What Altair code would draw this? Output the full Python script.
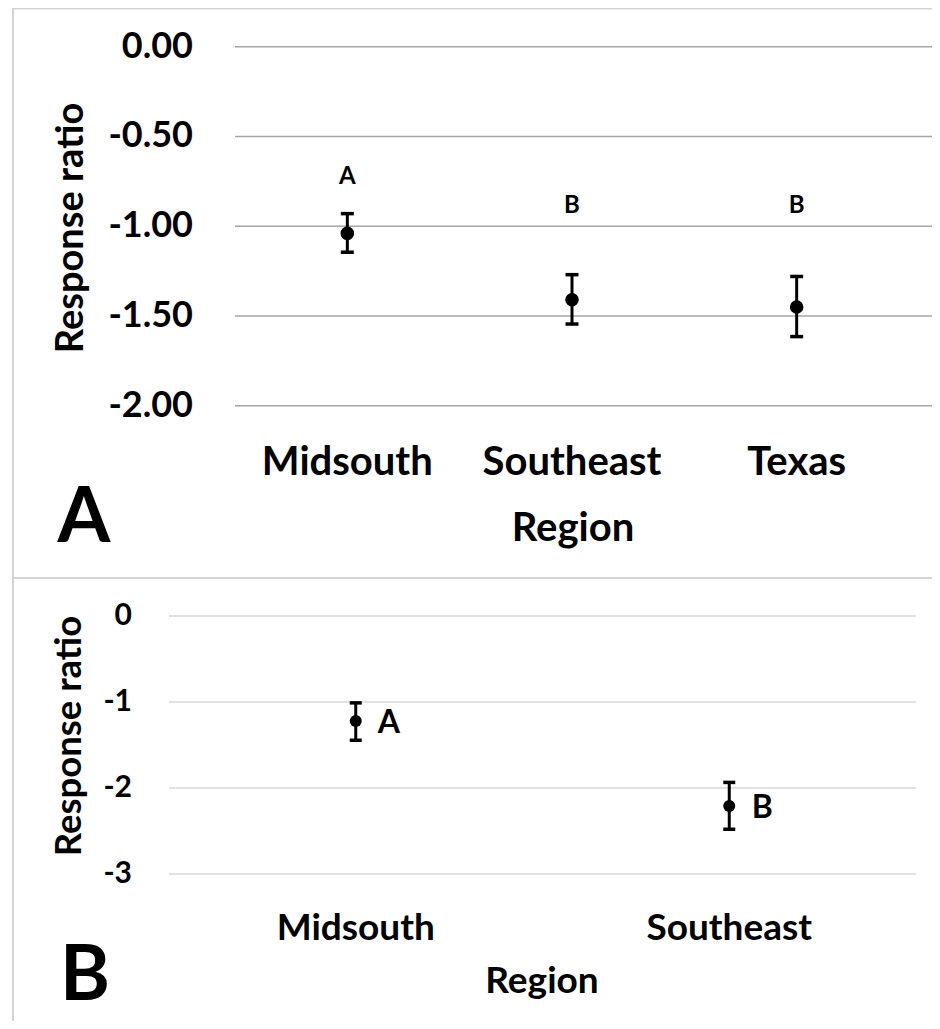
import altair as alt
import pandas as pd

# ---------------- Panel A data ----------------
regions_a = ["Midsouth", "Southeast", "Texas"]
mean_a = [-1.04, -1.41, -1.45]
upper_a = [-0.93, -1.27, -1.28]
lower_a = [-1.145, -1.545, -1.615]
letters_a = ["A", "B", "B"]
letter_pos_a = [-0.725, -0.885, -0.885]
ticks_a = [0, -0.5, -1, -1.5, -2]
tick_labels_a = ["0.00", "-0.50", "-1.00", "-1.50", "-2.00"]

# ---------------- Panel B data ----------------
regions_b = ["Midsouth", "Southeast"]
mean_b = [-1.22, -2.21]
upper_b = [-1.01, -1.935]
lower_b = [-1.445, -2.48]
letters_b = ["A", "B"]
ticks_b = [0, -1, -2, -3]
tick_labels_b = ["0", "-1", "-2", "-3"]

x_title = "Region"
y_title = "Response ratio"
panel_letters = ["A", "B"]

FONT = "Lato"
W, H = 924, 1013

df_a = pd.DataFrame({"region": regions_a, "mean": mean_a, "upper": upper_a,
                     "lower": lower_a, "letter": letters_a, "lpos": letter_pos_a})
df_ta = pd.DataFrame({"tick": ticks_a, "label": tick_labels_a})
df_b = pd.DataFrame({"region": regions_b, "mean": mean_b, "upper": upper_b,
                     "lower": lower_b, "letter": letters_b})
df_tb = pd.DataFrame({"tick": ticks_b, "label": tick_labels_b})
one = pd.DataFrame({"k": [0]})

# scales
xa = alt.X("region:N", scale=alt.Scale(type="point", domain=regions_a, range=[227, 901], padding=0.5), axis=None)
ysa = alt.Scale(domain=[-2, 0], range=[397.7, 38.7], nice=False, zero=False)
xb = alt.X("region:N", scale=alt.Scale(type="point", domain=regions_b, range=[161, 908], padding=0.5), axis=None)
ysb = alt.Scale(domain=[-3, 0], range=[866, 608], nice=False, zero=False)

def txt(size, **kw):
    return dict(font=FONT, fontWeight="bold", fontSize=size, color="black", **kw)

# ---------- frames ----------
frame_col = "#d4d4d4"
frames = [
    alt.Chart(one).mark_rule(color=frame_col, strokeWidth=2).encode(
        x=alt.value(5), x2=alt.value(W), y=alt.value(0.5), y2=alt.value(0.5)),
    alt.Chart(one).mark_rule(color=frame_col, strokeWidth=2).encode(
        x=alt.value(5), x2=alt.value(5), y=alt.value(0), y2=alt.value(H)),
    alt.Chart(one).mark_rule(color=frame_col, strokeWidth=2).encode(
        x=alt.value(5), x2=alt.value(W), y=alt.value(570), y2=alt.value(570)),
]

# ---------- Panel A ----------
grid_a = alt.Chart(df_ta).mark_rule(color="#a6a6a6", strokeWidth=1.6).encode(
    y=alt.Y("tick:Q", scale=ysa, axis=None), x=alt.value(227), x2=alt.value(W))
tlab_a = alt.Chart(df_ta).mark_text(**txt(36, align="right", baseline="middle")).encode(
    y=alt.Y("tick:Q", scale=ysa, axis=None), x=alt.value(185), text="label:N")
bar_a = alt.Chart(df_a).mark_rule(color="black", strokeWidth=3).encode(
    x=xa, y=alt.Y("lower:Q", scale=ysa, axis=None), y2="upper:Q")
capl_a = alt.Chart(df_a).mark_tick(color="black", orient="horizontal", size=13, thickness=3.5, opacity=1).encode(
    x=xa, y=alt.Y("lower:Q", scale=ysa, axis=None))
capu_a = alt.Chart(df_a).mark_tick(color="black", orient="horizontal", size=13, thickness=3.5, opacity=1).encode(
    x=xa, y=alt.Y("upper:Q", scale=ysa, axis=None))
pt_a = alt.Chart(df_a).mark_circle(color="black", size=185, opacity=1).encode(
    x=xa, y=alt.Y("mean:Q", scale=ysa, axis=None))
let_a = alt.Chart(df_a).mark_text(**txt(24, align="center", baseline="middle")).encode(
    x=xa, y=alt.Y("lpos:Q", scale=ysa, axis=None), text="letter:N")
xlab_a = alt.Chart(df_a).mark_text(**txt(40, align="center", baseline="alphabetic")).encode(
    x=xa, y=alt.value(467), text="region:N")
xt_a = alt.Chart(pd.DataFrame({"t": [x_title]})).mark_text(**txt(40, align="center", baseline="alphabetic")).encode(
    x=alt.value(565), y=alt.value(533), text="t:N")
yt_a = alt.Chart(pd.DataFrame({"t": [y_title]})).mark_text(**txt(38, align="center", baseline="middle", angle=270)).encode(
    x=alt.value(64), y=alt.value(220), text="t:N")
pl_a = alt.Chart(pd.DataFrame({"t": [panel_letters[0]]})).mark_text(**txt(76, align="center", baseline="alphabetic")).encode(
    x=alt.value(76), y=alt.value(534), text="t:N")

# ---------- Panel B ----------
grid_b = alt.Chart(df_tb).mark_rule(color="#d9d9d9", strokeWidth=1.6).encode(
    y=alt.Y("tick:Q", scale=ysb, axis=None), x=alt.value(161), x2=alt.value(908))
tlab_b = alt.Chart(df_tb).mark_text(**txt(30, align="right", baseline="middle")).encode(
    y=alt.Y("tick:Q", scale=ysb, axis=None), x=alt.value(124), text="label:N")
bar_b = alt.Chart(df_b).mark_rule(color="black", strokeWidth=3).encode(
    x=xb, y=alt.Y("lower:Q", scale=ysb, axis=None), y2="upper:Q")
capl_b = alt.Chart(df_b).mark_tick(color="black", orient="horizontal", size=12, thickness=3.5, opacity=1).encode(
    x=xb, y=alt.Y("lower:Q", scale=ysb, axis=None))
capu_b = alt.Chart(df_b).mark_tick(color="black", orient="horizontal", size=12, thickness=3.5, opacity=1).encode(
    x=xb, y=alt.Y("upper:Q", scale=ysb, axis=None))
pt_b = alt.Chart(df_b).mark_circle(color="black", size=145, opacity=1).encode(
    x=xb, y=alt.Y("mean:Q", scale=ysb, axis=None))
let_b = alt.Chart(df_b).mark_text(**txt(32, align="center", baseline="middle", dx=33, dy=2)).encode(
    x=xb, y=alt.Y("mean:Q", scale=ysb, axis=None), text="letter:N")
xlab_b = alt.Chart(df_b).mark_text(**txt(37, align="center", baseline="alphabetic")).encode(
    x=xb, y=alt.value(932), text="region:N")
xt_b = alt.Chart(pd.DataFrame({"t": [x_title]})).mark_text(**txt(37, align="center", baseline="alphabetic")).encode(
    x=alt.value(534), y=alt.value(985), text="t:N")
yt_b = alt.Chart(pd.DataFrame({"t": [y_title]})).mark_text(**txt(36.5, align="center", baseline="middle", angle=270)).encode(
    x=alt.value(62), y=alt.value(728), text="t:N")
pl_b = alt.Chart(pd.DataFrame({"t": [panel_letters[1]]})).mark_text(**txt(76, align="center", baseline="alphabetic")).encode(
    x=alt.value(77), y=alt.value(992), text="t:N")

chart = alt.layer(
    *frames,
    grid_a, tlab_a, bar_a, capl_a, capu_a, pt_a, let_a, xlab_a, xt_a, yt_a, pl_a,
    grid_b, tlab_b, bar_b, capl_b, capu_b, pt_b, let_b, xlab_b, xt_b, yt_b, pl_b,
).resolve_scale(x="independent", y="independent").properties(
    width=W, height=H, autosize="none", padding=0
).configure_view(stroke=None)

chart.save("out.html", embed_options={"renderer": "svg", "actions": False})
